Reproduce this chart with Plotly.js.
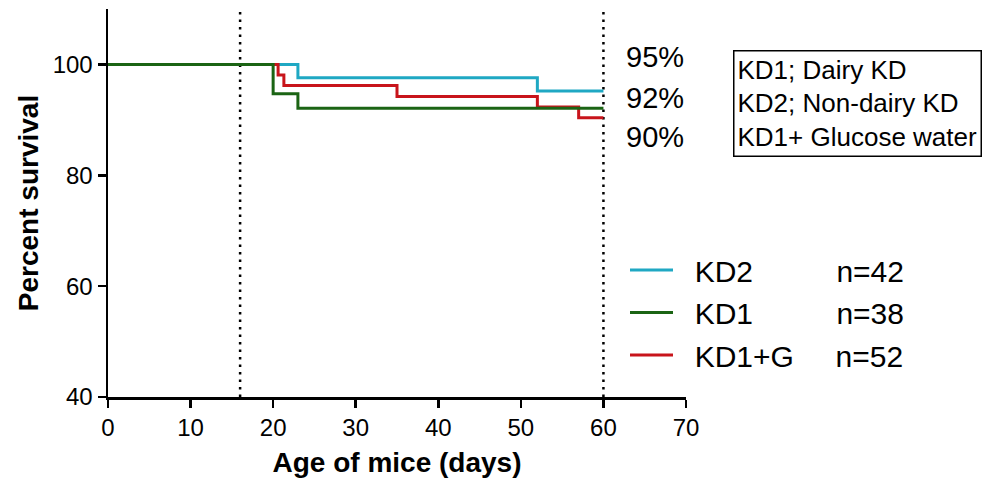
<!DOCTYPE html>
<html>
<head>
<meta charset="utf-8">
<script src="https://cdn.plot.ly/plotly-3.0.1.min.js"></script>
<style>html,body{margin:0;padding:0;background:#fff;}#chart{width:982px;height:481px;}</style>
</head>
<body>
<div id="chart"></div>
<script>
// Kaplan-Meier step data (days, percent survival)
const kd2Days = [0, 23, 52, 60];
const kd2Surv = [100, 97.6, 95.2, 95.2];
const kd1Days = [0, 20, 23, 60];
const kd1Surv = [100, 94.7, 92.1, 92.1];
const kd1gDays = [0, 20.6, 21.3, 35, 52, 57, 60];
const kd1gSurv = [100, 98.1, 96.2, 94.2, 92.3, 90.4, 90.4];

const seriesNames = ['KD2', 'KD1', 'KD1+G'];
const seriesN = ['n=42', 'n=38', 'n=52'];
const endLabels = ['95%', '92%', '90%'];
const refDays = [16, 60];
const boxLines = ['KD1; Dairy KD', 'KD2; Non-dairy KD', 'KD1+ Glucose water'];
const xTicks = [0, 10, 20, 30, 40, 50, 60, 70];
const yTicks = [40, 60, 80, 100];

const colors = {KD2: '#1fa8c3', KD1: '#1b6414', 'KD1+G': '#c8141b'};
const FONT = 'Liberation Sans, Arial, Helvetica, sans-serif';
const nb = n => '\u00a0'.repeat(n);

function legendName(i) {
  const pad = seriesNames[i] === 'KD1+G' ? 5 : 10;
  return nb(2) + seriesNames[i] + nb(pad) + seriesN[i];
}

const traces = [
  {x: kd2Days, y: kd2Surv, name: legendName(0), color: colors.KD2, rank: 1},
  {x: kd1gDays, y: kd1gSurv, name: legendName(2), color: colors['KD1+G'], rank: 3},
  {x: kd1Days, y: kd1Surv, name: legendName(1), color: colors.KD1, rank: 2}
].map(t => ({
  type: 'scatter', mode: 'lines', x: t.x, y: t.y, name: t.name,
  line: {shape: 'hv', color: t.color, width: 3},
  legendrank: t.rank, legendgroup: 'g' + t.rank
}));

const L = 108, R = 296, T = 9, B = 84;
const W = 982 - L - R, H = 481 - T - B;
const px = x => (x - L) / W;
const py = y => (481 - B - y) / H;

const endY = [57, 98, 137];
const annotations = endLabels.map((s, i) => ({
  text: s, xref: 'paper', yref: 'paper', x: px(624), y: py(endY[i]),
  xanchor: 'left', yanchor: 'middle', showarrow: false,
  font: {family: FONT, size: 29, color: '#000'}
}));
annotations.push({
  text: boxLines.join('<br>'), xref: 'paper', yref: 'paper',
  x: px(733), y: py(50), xanchor: 'left', yanchor: 'top', align: 'left',
  showarrow: false, bordercolor: '#000', borderwidth: 1.5, borderpad: 3,
  font: {family: FONT, size: 26, color: '#000'}
});

const shapes = refDays.map(d => ({
  type: 'line', xref: 'x', yref: 'paper', x0: d, x1: d, y0: 0, y1: 1,
  line: {color: '#000', width: 2.5, dash: '2.5px,5px'}, layer: 'below'
}));

const layout = {
  width: 982, height: 481,
  margin: {l: L, r: R, t: T, b: B},
  paper_bgcolor: '#fff', plot_bgcolor: '#fff',
  font: {family: FONT, color: '#000'},
  showlegend: true,
  legend: {
    x: px(625), y: py(244), xanchor: 'left', yanchor: 'top',
    font: {family: FONT, size: 30, color: '#000'},
    itemwidth: 43, traceorder: 'grouped', tracegroupgap: 0.5,
    bgcolor: 'rgba(0,0,0,0)', borderwidth: 0
  },
  xaxis: {
    range: [0, 70], tickvals: xTicks, ticktext: xTicks.map(String),
    showline: true, linecolor: '#000', linewidth: 2.5,
    ticks: 'outside', ticklen: 8, tickwidth: 2.5, tickcolor: '#000',
    showgrid: false, zeroline: false,
    tickfont: {family: FONT, size: 24, color: '#000'},
    title: {text: 'Age of mice (days)', standoff: 12,
      font: {family: FONT, size: 28, weight: 'bold', color: '#000'}},
    fixedrange: true
  },
  yaxis: {
    range: [40, 110], tickvals: yTicks, ticktext: yTicks.map(String),
    showline: true, linecolor: '#000', linewidth: 2.5,
    ticks: 'outside', ticklen: 8, tickwidth: 2.5, tickcolor: '#000',
    showgrid: false, zeroline: false,
    tickfont: {family: FONT, size: 24, color: '#000'},
    title: {text: 'Percent survival', standoff: 6,
      font: {family: FONT, size: 28, weight: 'bold', color: '#000'}},
    fixedrange: true
  },
  annotations: annotations,
  shapes: shapes
};

Plotly.newPlot('chart', traces, layout, {displayModeBar: false, staticPlot: true});
</script>
</body>
</html>
